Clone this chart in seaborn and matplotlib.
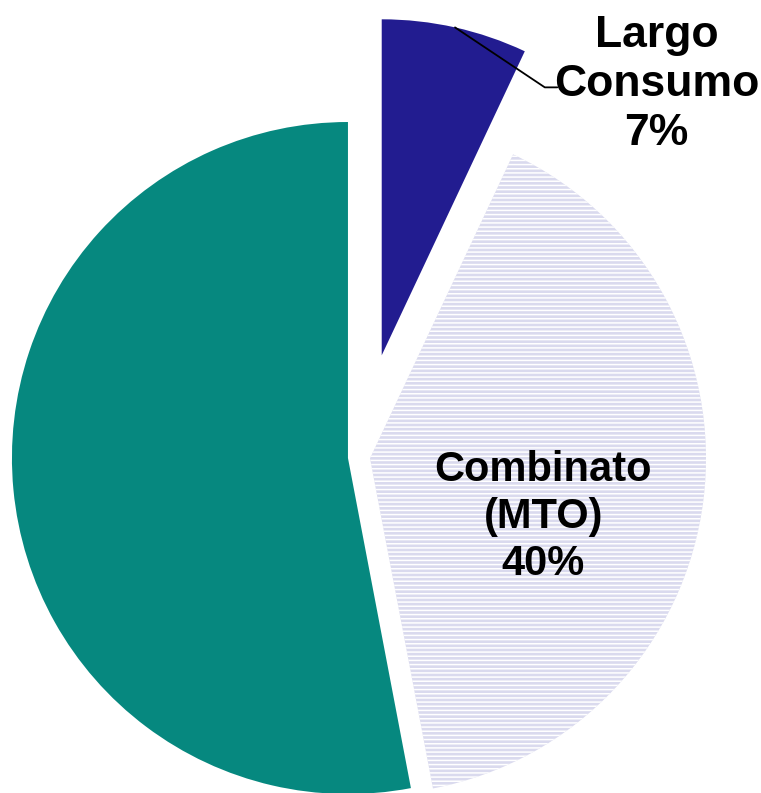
import numpy as np
import matplotlib
matplotlib.use("Agg")
from matplotlib import pyplot as plt
import seaborn as sns

# data
categorie = ['Largo\nConsumo', 'Combinato\n(MTO)', 'Altro']
quote = [7, 40, 53]
colori = ['#221C90', '#DADAEE', '#06887F']

sns.set_theme(style="white")
plt.rcParams['font.family'] = ['Liberation Sans', 'DejaVu Sans']
plt.rcParams['hatch.color'] = '#A2A2D2'
plt.rcParams['hatch.linewidth'] = 1.1

fig = plt.figure(figsize=(7.61, 7.93), dpi=100)
ax = fig.add_axes([0, 0, 1, 1])

wedges, _ = ax.pie(quote, colors=colori, startangle=90, counterclock=False,
                   explode=[0.31, 0.033, 0.033],
                   wedgeprops=dict(linewidth=0))
wedges[1].set_hatch('----')

ax.set_xlim(-1.068, 1.196)
ax.set_ylim(-1.0, 1.36)
ax.set_aspect('equal')
ax.axis('off')

# Largo Consumo label, outside with a leader line
w = wedges[0]
tm = np.deg2rad((w.theta1 + w.theta2) / 2)
px = w.center[0] + w.r * np.cos(tm)
py = w.center[1] + w.r * np.sin(tm)
tx, ty = 0.886, 1.11
ax.text(tx, ty, f'{categorie[0]}\n{quote[0]}%', ha='center', va='center',
        fontsize=32, fontweight='bold', color='black', linespacing=1.25)
ax.plot([px, 0.553, 0.59], [py, ty - 0.01, ty - 0.01], color='black', lw=1.3)

# Combinato label, inside the slice
ax.text(0.548, -0.179, f'{categorie[1]}\n{quote[1]}%', ha='center', va='center',
        fontsize=30, fontweight='bold', color='black', linespacing=1.22)

fig.savefig('out.png', dpi=100)
